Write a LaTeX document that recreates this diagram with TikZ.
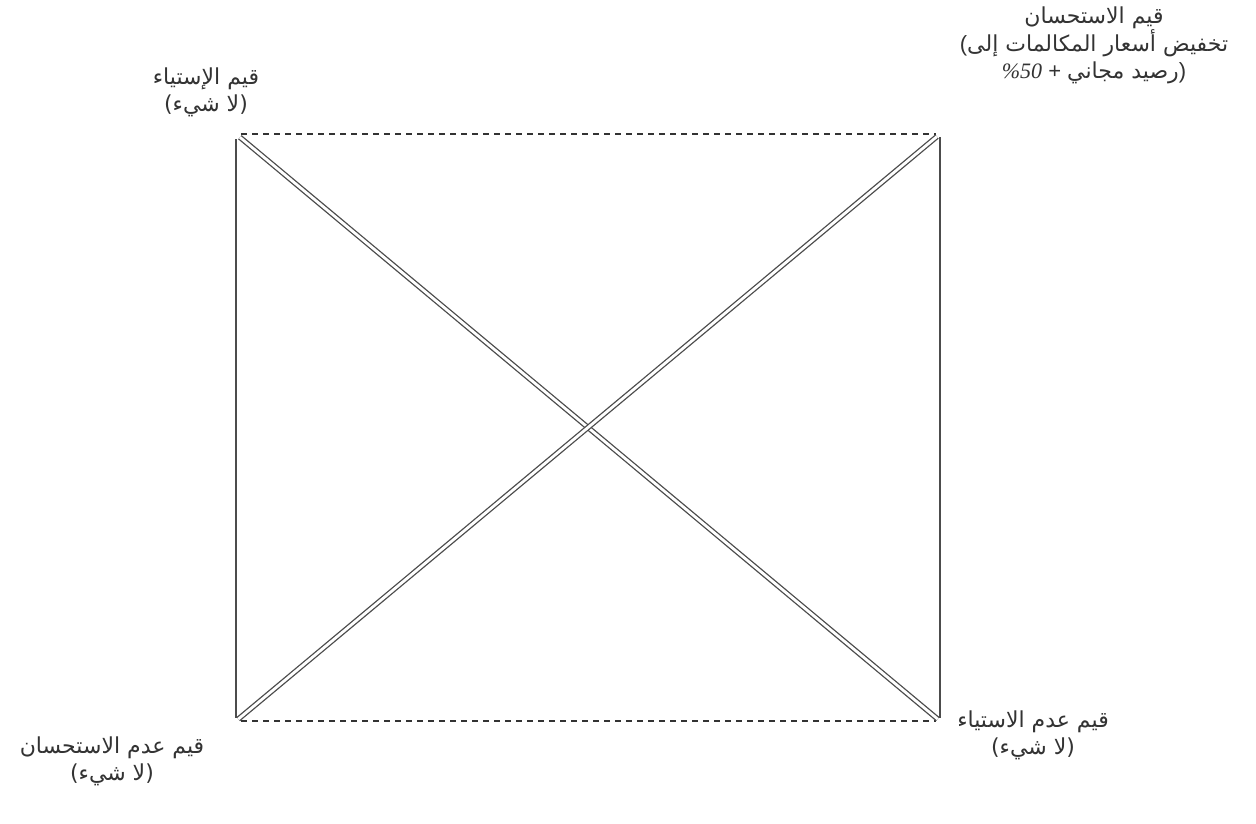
\documentclass[tikz,border=0pt]{standalone}
\usepackage{fontspec}
\TeXXeTstate=1
\newfontfamily\arabicfont[Script=Arabic]{DejaVu Sans}
\newfontfamily\numfont{Liberation Serif}
\newfontfamily\parfont{Liberation Sans}
\newcommand{\AR}[1]{\hbox{\beginR #1\endR}}
\begin{document}
\begin{tikzpicture}[x=1pt,y=-1pt,
  edge/.style={draw=black!70, line width=1.5pt},
  dashedge/.style={draw=black!80, line width=1.5pt, dash pattern=on 6pt off 5pt},
  dbl/.style={draw=black!70, line width=1.3pt, double=white, double distance=2.8pt},
  lbl/.style={font=\arabicfont\fontsize{22}{27}\selectfont, text=black!80, align=center, inner sep=0pt}]
\useasboundingbox (0,0) rectangle (1256,823);
\fill[white] (0,0) rectangle (1256,823);
\coordinate (tl) at (236,134);
\coordinate (tr) at (940,134);
\coordinate (bl) at (236,721);
\coordinate (br) at (940,721);
% sides
\draw[edge, shorten <=5pt, shorten >=3pt] (tl) -- (bl);
\draw[edge, shorten <=3pt, shorten >=3pt] (tr) -- (br);
\draw[dashedge, shorten <=5pt, shorten >=4pt] (tl) -- (tr);
\draw[dashedge, shorten <=5pt, shorten >=4pt] (bl) -- (br);
% diagonals
\draw[dbl, shorten <=5pt, shorten >=3pt] (tl) -- (br);
\draw[dbl, shorten <=3pt, shorten >=4pt] (bl) -- (tr);
% labels
\node[lbl] (ltl) at (206,92) {\AR{قيم الإستياء}\\\AR{(لا شيء)}};
\node[lbl] (ltr) at (1094,45) {\AR{قيم الاستحسان}\\\hbox{\parfont(}\AR{تخفيض أسعار المكالمات إلى}\\\hbox{\numfont\itshape \%50}\hbox{\parfont\ + }\AR{رصيد مجاني}\hbox{\parfont)}};
\node[lbl] (lbl) at (112,761) {\AR{قيم عدم الاستحسان}\\\AR{(لا شيء)}};
\node[lbl] (lbr) at (1033,735) {\AR{قيم عدم الاستياء}\\\AR{(لا شيء)}};
\end{tikzpicture}
\end{document}
